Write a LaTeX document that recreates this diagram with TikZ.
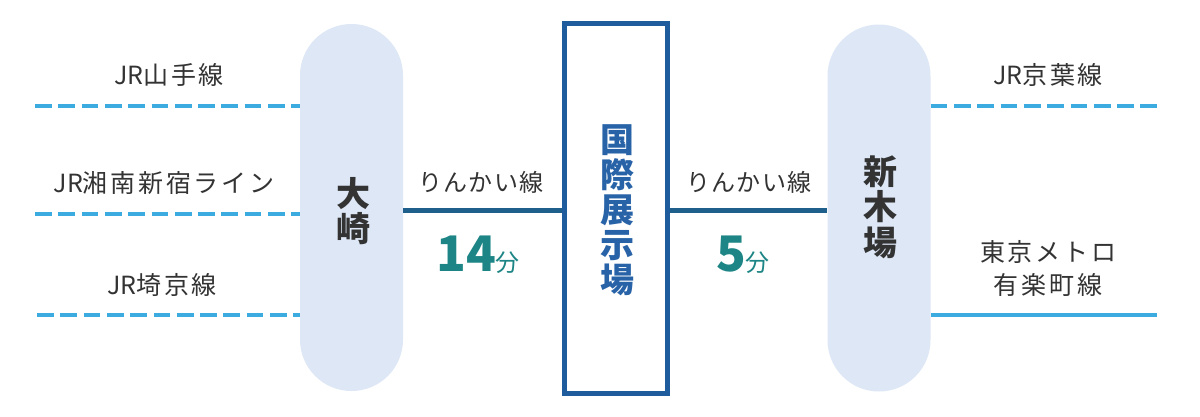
\documentclass[tikz,border=0pt]{standalone}
\usepackage{fontspec}
\setmainfont{Noto Sans CJK JP}
\newcommand\wsp{\addfontfeature{LetterSpace=11}}
\definecolor{pillfill}{HTML}{DDE7F6}
\definecolor{jrblue}{HTML}{3BABE0}
\definecolor{rinkai}{HTML}{1E5F8C}
\definecolor{boxblue}{HTML}{1F5C9E}
\definecolor{txtblue}{HTML}{2863A8}
\definecolor{teal}{HTML}{1D8585}
\definecolor{txtgray}{HTML}{333333}
\begin{document}
\begin{tikzpicture}[x=1pt,y=-1pt,
  pill/.style={draw=none,fill=pillfill,rounded corners=51.5pt,minimum width=103pt,minimum height=367pt,inner sep=0pt},
  jrline/.style={draw=jrblue,line width=4.5pt,dash pattern=on 16.7pt off 6.6pt},
  metroline/.style={draw=jrblue,line width=4.5pt},
  rkline/.style={draw=rinkai,line width=4.5pt},
  lbl/.style={text=txtgray,font=\fontsize{25}{33}\selectfont,inner sep=0pt},
  rklbl/.style={text=txtgray,font=\fontsize{24}{28}\selectfont\addfontfeature{LetterSpace=6},inner sep=0pt},
  stn/.style={text=txtgray,font=\fontsize{34}{35.5}\selectfont\bfseries,align=center,inner sep=0pt},
]
\useasboundingbox (0,0) rectangle (1200,416);
\fill[white] (0,0) rectangle (1200,416);
% stations
\node[pill] (osaki) at (351.5,207.5) {};
\node[pill] (shinkiba) at (879,208) {};
\node[draw=boxblue,line width=4.5pt,fill=white,minimum width=103pt,minimum height=370pt,inner sep=0pt] (kokusai) at (616,208.5) {};
\node[stn] (osakitxt) at (353,211) {大\\崎};
\node[stn] (shinkibatxt) at (880,207) {新\\木\\場};
\node[text=txtblue,font=\fontsize{34}{35}\selectfont\bfseries,align=center,inner sep=0pt] (kokusaitxt) at (617,210) {国\\際\\展\\示\\場};
% left JR lines
\coordinate (l1) at (35,106);
\coordinate (l2) at (35,214);
\coordinate (l3) at (37,315);
\draw[jrline] (l1) -- (l1 -| osaki.west);
\draw[jrline] (l2) -- (l2 -| osaki.west);
\draw[jrline] (l3) -- (l3 -| osaki.west);
\node[lbl] (yamanote) at (169,75) {JR{\wsp 山手線}};
\node[lbl] (shonan) at (164,183) {JR{\wsp 湘南新宿ライン}};
\node[lbl] (saikyo) at (162,285) {JR{\wsp 埼京線}};
% right lines
\coordinate (r1) at (1157,106);
\coordinate (r2) at (1157,315);
\draw[jrline] (r1 -| shinkiba.east) -- (r1);
\draw[metroline] (r2 -| shinkiba.east) -- (r2);
\node[lbl] (keiyo) at (1048,75) {JR{\wsp 京葉線}};
\node[lbl,align=center] (metro) at (1048,268) {{\wsp 東京メトロ}\\{\wsp 有楽町線}};
% rinkai
\draw[rkline] (osaki.east |- 0,210.5) -- (kokusai.west |- 0,210.5);
\draw[rkline] (kokusai.east |- 0,210.5) -- (shinkiba.west |- 0,210.5);
\node[rklbl] (rk1) at (481,182) {りんかい線};
\node[rklbl] (rk2) at (749,182) {りんかい線};
\node[text=teal,inner sep=0pt,anchor=base] (t14) at (478,271) {\fontsize{49}{50}\selectfont\bfseries 14\fontsize{24}{26}\selectfont\mdseries 分};
\node[text=teal,inner sep=0pt,anchor=base] (t5) at (743,271) {\fontsize{49}{50}\selectfont\bfseries 5\fontsize{24}{26}\selectfont\mdseries 分};
\end{tikzpicture}
\end{document}
